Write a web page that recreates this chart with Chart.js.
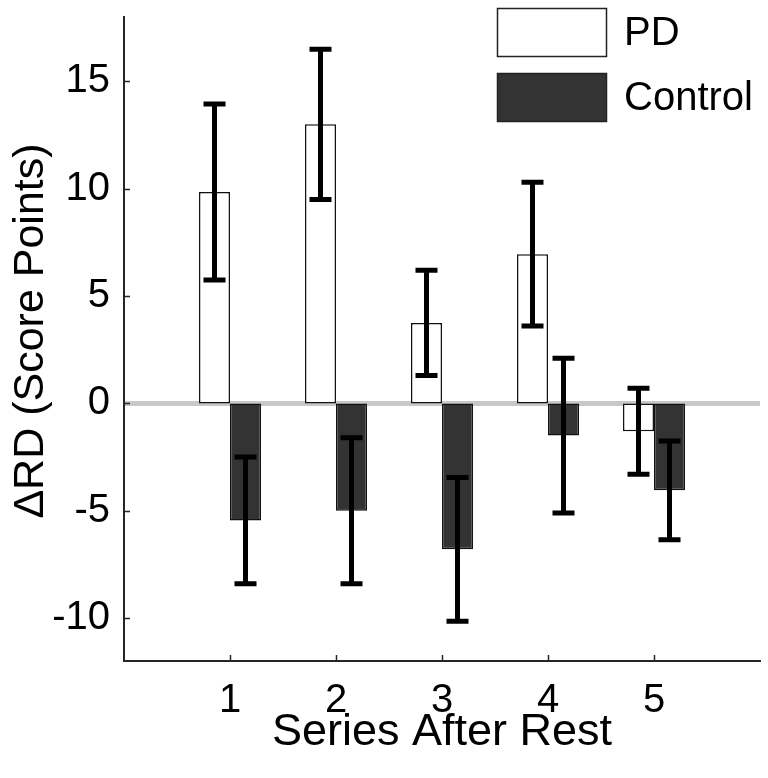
<!DOCTYPE html>
<html>
<head>
<meta charset="utf-8">
<script src="https://cdn.jsdelivr.net/npm/chart.js@4.4.1/dist/chart.umd.min.js"></script>
<style>
  html, body { margin: 0; padding: 0; background: #fff; }
  #wrap { width: 768px; height: 778px; }
</style>
</head>
<body>
<div id="wrap"><canvas id="chart" width="768" height="778"></canvas></div>
<script>
// kategorie (serie po odpoczynku)
const categories = ['1', '2', '3', '4', '5'];
const yTicks = [-10, -5, 0, 5, 10, 15];
const yTitle = 'ΔRD (Score Points)';

// średnie i błędy
const pdValues = [9.85, 13.0, 3.75, 6.95, -1.3];
const pdErrors = [4.1, 3.5, 2.45, 3.35, 2.0];
const controlValues = [-5.45, -5.0, -6.8, -1.5, -4.05];
const controlErrors = [2.95, 3.4, 3.35, 3.6, 2.3];

const FONT = "'Liberation Sans', Arial, sans-serif";

// puste pozycje po bokach, żeby oś szła od 0 do 6
const labels = ['', ...categories, ''];
const pad = arr => [null, ...arr, null];

// bez dodatkowych marginesów na etykiety - obszar wykresu ustawiamy ręcznie
function noPadding(s) {
  s.paddingTop = 0;
  s.paddingBottom = 0;
  s.paddingLeft = 0;
  s.paddingRight = 0;
}

const zeroLine = {
  id: 'zeroLine',
  beforeDatasetsDraw(chart) {
    const { ctx, chartArea, scales } = chart;
    const y = scales.y.getPixelForValue(0);
    ctx.save();
    ctx.strokeStyle = '#c8c8c8';
    ctx.lineWidth = 5;
    ctx.beginPath();
    ctx.moveTo(chartArea.left + 1, y);
    ctx.lineTo(chartArea.right, y);
    ctx.stroke();
    ctx.restore();
  }
};

const errorBars = {
  id: 'errorBars',
  afterDatasetsDraw(chart) {
    const { ctx, scales } = chart;
    ctx.save();
    ctx.strokeStyle = '#000';
    ctx.lineWidth = 5;
    chart.data.datasets.forEach((ds, i) => {
      const meta = chart.getDatasetMeta(i);
      meta.data.forEach((bar, j) => {
        const v = ds.data[j];
        const e = ds.errors[j];
        if (v == null || e == null) return;
        const top = scales.y.getPixelForValue(v + e);
        const bot = scales.y.getPixelForValue(v - e);
        const x = bar.x;
        ctx.beginPath();
        ctx.moveTo(x, top);
        ctx.lineTo(x, bot);
        ctx.moveTo(x - 11, top);
        ctx.lineTo(x + 11, top);
        ctx.moveTo(x - 11, bot);
        ctx.lineTo(x + 11, bot);
        ctx.stroke();
      });
    });
    ctx.restore();
  }
};

// znaczniki osi skierowane do środka (jak w MATLABie)
const innerTicks = {
  id: 'innerTicks',
  afterDraw(chart) {
    const { ctx, chartArea, scales } = chart;
    ctx.save();
    ctx.strokeStyle = '#262626';
    ctx.lineWidth = 1.5;
    ctx.beginPath();
    yTicks.forEach(t => {
      const y = Math.round(scales.y.getPixelForValue(t)) + 0.5;
      ctx.moveTo(chartArea.left, y);
      ctx.lineTo(chartArea.left + 6, y);
    });
    categories.forEach((c, i) => {
      const x = Math.round(scales.x.getPixelForValue(i + 1)) + 0.5;
      ctx.moveTo(x, chartArea.bottom);
      ctx.lineTo(x, chartArea.bottom - 6);
    });
    ctx.stroke();
    ctx.restore();
  }
};

// tytuł osi Y rysowany ręcznie - w oryginale jest trochę powyżej środka osi
const yAxisTitle = {
  id: 'yAxisTitle',
  afterDraw(chart) {
    const { ctx } = chart;
    ctx.save();
    ctx.translate(31, 331);
    ctx.rotate(-Math.PI / 2);
    ctx.font = '43px ' + FONT;
    ctx.fillStyle = '#000';
    ctx.textAlign = 'center';
    ctx.textBaseline = 'middle';
    ctx.fillText(yTitle, 0, 0);
    ctx.restore();
  }
};

const boxLegend = {
  id: 'boxLegend',
  afterDraw(chart) {
    const { ctx } = chart;
    ctx.save();
    ctx.font = '40px ' + FONT;
    ctx.textBaseline = 'middle';
    ctx.textAlign = 'left';
    chart.data.datasets.forEach((ds, i) => {
      const y = 8 + i * 65;
      ctx.fillStyle = ds.backgroundColor;
      ctx.fillRect(497, y, 110, 49);
      ctx.strokeStyle = '#222';
      ctx.lineWidth = 1.5;
      ctx.strokeRect(497.5, y + 0.5, 109, 48);
      ctx.fillStyle = '#000';
      ctx.fillText(ds.label, 624, y + 26);
    });
    ctx.restore();
  }
};

new Chart(document.getElementById('chart'), {
  type: 'bar',
  data: {
    labels,
    datasets: [
      {
        label: 'PD',
        data: pad(pdValues),
        errors: pad(pdErrors),
        backgroundColor: '#ffffff',
        borderColor: '#111',
        borderWidth: 1.5,
        borderSkipped: false
      },
      {
        label: 'Control',
        data: pad(controlValues),
        errors: pad(controlErrors),
        backgroundColor: '#333333',
        borderColor: '#111',
        borderWidth: 1.5,
        borderSkipped: false
      }
    ]
  },
  options: {
    responsive: false,
    animation: false,
    layout: { padding: { top: 17, right: 8, left: 0, bottom: 0 } },
    categoryPercentage: 0.585,
    barPercentage: 1,
    plugins: {
      legend: { display: false },
      tooltip: { enabled: false }
    },
    scales: {
      x: {
        offset: false,
        grid: { display: false, drawTicks: false },
        border: { display: true, color: '#262626', width: 2 },
        ticks: {
          color: '#000',
          font: { family: FONT, size: 40 },
          padding: 16,
          maxRotation: 0,
          autoSkip: false
        },
        title: {
          display: true,
          text: 'Series After Rest',
          color: '#000',
          font: { family: FONT, size: 45 },
          padding: { top: 0, bottom: 18 }
        },
        afterFit: s => { s.height = 117; noPadding(s); }
      },
      y: {
        min: -12,
        max: 18,
        grid: { display: false, drawTicks: false },
        border: { display: true, color: '#262626', width: 2 },
        afterBuildTicks: s => { s.ticks = yTicks.map(v => ({ value: v })); },
        ticks: {
          color: '#000',
          font: { family: FONT, size: 40 },
          padding: 14
        },
        afterFit: s => { s.width = 124; noPadding(s); }
      }
    }
  },
  plugins: [zeroLine, errorBars, innerTicks, yAxisTitle, boxLegend]
});
</script>
</body>
</html>
